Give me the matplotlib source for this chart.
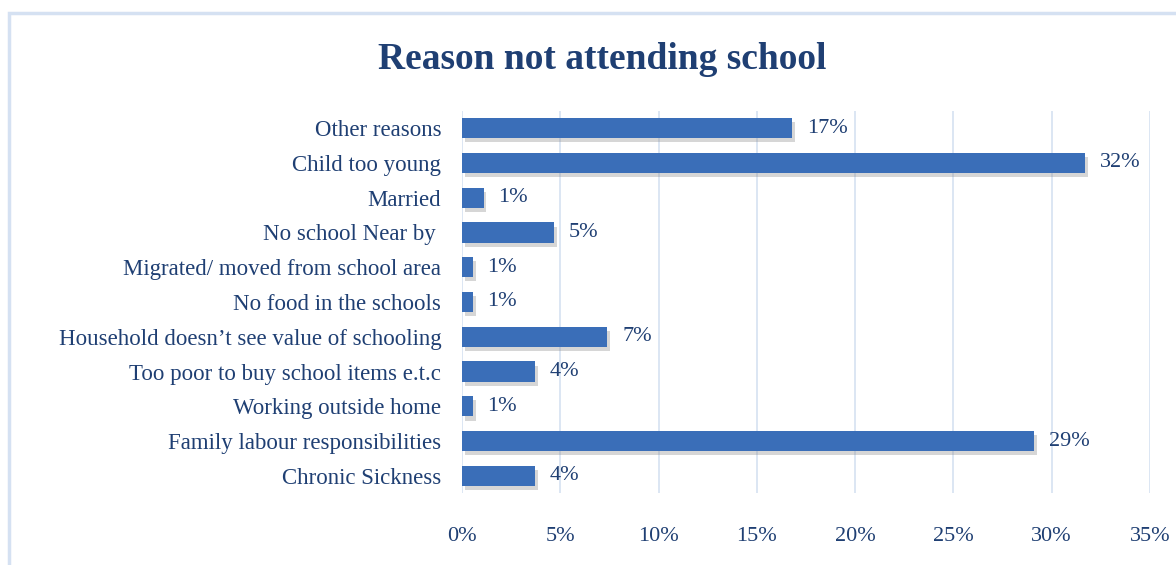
import matplotlib.pyplot as plt
import matplotlib.patheffects as pe
from matplotlib.patches import Rectangle

plt.rcParams['font.family'] = ['Liberation Serif', 'DejaVu Serif']

reasons = ['Other reasons', 'Child too young', 'Married', 'No school Near by ',
           'Migrated/ moved from school area', 'No food in the schools',
           'Household doesn\u2019t see value of schooling', 'Too poor to buy school items e.t.c',
           'Working outside home', 'Family labour responsibilities', 'Chronic Sickness']
shares = [16.8, 31.7, 1.1, 4.7, 0.55, 0.55, 7.4, 3.7, 0.55, 29.1, 3.7]
ticks = [0, 5, 10, 15, 20, 25, 30, 35]

navy = '#1F3F73'
bar_col = '#3A6EB8'
grid_col = '#D6E1F1'

fig = plt.figure(figsize=(11.76, 5.65), dpi=100)
ax = fig.add_axes([462 / 1176, 0.127, (1150 - 462) / 1176, 0.677])

# outer chart border
fig.patches.append(Rectangle((9 / 1176, -0.05), 1.2, 1 - 13 / 565 + 0.05,
                             transform=fig.transFigure, fill=False,
                             edgecolor='#D5E1F2', linewidth=2.5))

ypos = list(range(len(reasons)))
bars = ax.barh(ypos, shares, height=0.58, color=bar_col, zorder=3)
for b in bars:
    b.set_path_effects([pe.SimplePatchShadow(offset=(2, -3), shadow_rgbFace='#8A8A8A', alpha=0.35),
                        pe.Normal()])

for y, v in zip(ypos, shares):
    ax.text(v + 0.75, y, '%d%%' % round(v), va='center', ha='left',
            fontsize=16, color=navy)

ax.set_xlim(0, 35)
ax.set_ylim(len(reasons) - 0.5, -0.5)
ax.set_xticks(ticks)
ax.set_xticklabels(['%d%%' % t for t in ticks], fontsize=16, color=navy)
ax.set_yticks(ypos)
ax.set_yticklabels(reasons, fontsize=16.5, color=navy)
ax.tick_params(axis='x', length=0, pad=24)
ax.tick_params(axis='y', length=0, pad=15)
ax.xaxis.grid(True, color=grid_col, linewidth=1.2, zorder=0)
ax.set_axisbelow(True)
for s in ax.spines.values():
    s.set_visible(False)

fig.text(0.512, 0.895, 'Reason not attending school', ha='center', va='center',
         fontsize=27, fontweight='bold', color=navy)

fig.savefig('out.png', dpi=100)
